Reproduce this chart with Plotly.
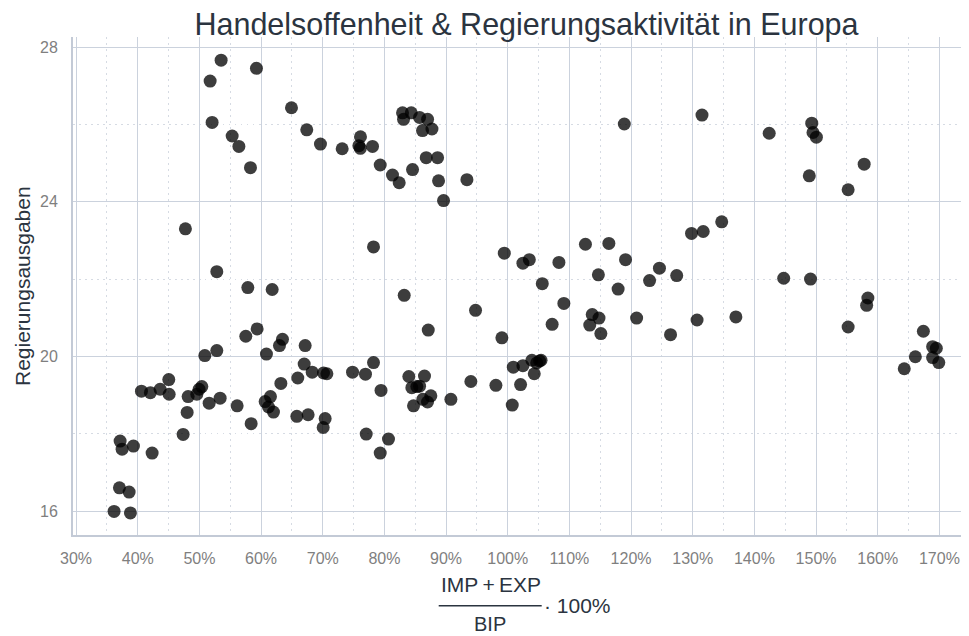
import plotly.graph_objects as go

# Handelsoffenheit (IMP+EXP)/BIP in %, Regierungsausgaben
openness = [
    82.94, 84.35, 83.10, 85.70, 87.00, 86.18, 87.71, 78.07, 79.32, 81.31, 82.40, 84.56,
    86.78, 88.62, 88.78, 93.38, 89.59,
    51.74, 53.52, 59.25, 52.06, 55.31, 56.40, 58.28, 64.93, 67.41, 69.63, 73.15, 76.12,
    75.86, 76.10, 47.73, 78.23, 52.82,
    57.85, 61.80, 57.52, 59.36, 63.47, 62.98, 67.15, 50.88, 52.82, 60.87, 66.99, 68.29,
    70.12, 70.67, 74.83, 76.93, 78.23, 63.21, 65.95, 40.60, 42.05, 43.63, 45.03,
    45.09, 48.17, 49.58, 49.95, 50.39, 51.58, 53.36, 48.01, 47.36, 56.12, 58.39, 60.66,
    61.52, 61.20, 62.01, 65.80, 67.63, 70.39, 70.07, 77.05, 80.66, 79.32, 37.14, 37.46,
    39.30, 42.33, 37.03, 38.60, 36.16, 38.81,
    83.21, 87.11, 94.78, 99.05, 105.6, 109.1, 107.2, 79.45, 83.96, 86.50, 84.45, 85.26,
    85.70, 84.72, 86.23, 87.53, 86.99, 90.78, 94.02, 98.08, 100.73, 100.9, 102.46, 103.92,
    105.16, 104.30, 102.08, 104.7, 105.4,
    99.44, 102.46, 103.5, 108.3, 112.6, 116.4, 119.1, 114.7, 117.9, 124.6, 123.0, 127.4,
    129.8, 131.7, 134.7, 113.7, 114.8, 113.3, 115.1, 120.9, 126.4, 130.7, 137.0,
    131.5, 118.9, 142.4, 149.3, 149.5, 150.05, 148.9, 157.8, 155.2, 144.75, 149.1,
    158.4, 158.2, 155.2, 167.4, 166.1, 164.3, 168.9, 169.5, 168.9, 169.9,
]
spending = [
    26.30, 26.30, 26.13, 26.18, 26.13, 25.84, 25.88, 25.43, 24.95, 24.69, 24.49, 24.83,
    25.14, 25.14, 24.54, 24.57, 24.03,
    27.12, 27.66, 27.45, 26.05, 25.70, 25.43, 24.88, 26.43, 25.86, 25.49, 25.37, 25.68,
    25.45, 25.38, 23.30, 22.83, 22.19,
    21.78, 21.73, 20.52, 20.71, 20.44, 20.28, 20.28, 20.02, 20.15, 20.06, 19.80, 19.59,
    19.57, 19.55, 19.59, 19.54, 19.84, 19.30, 19.44, 19.10, 19.06, 19.15, 19.40,
    19.02, 18.96, 19.02, 19.15, 19.22, 18.79, 18.92, 18.55, 17.98, 18.72, 18.26, 18.83,
    18.96, 18.69, 18.56, 18.45, 18.49, 18.39, 18.16, 17.99, 17.86, 17.50, 17.81, 17.60,
    17.68, 17.50, 16.60, 16.49, 15.99, 15.95,
    21.58, 20.68, 21.19, 20.48, 21.88, 21.37, 20.83, 19.12, 19.48, 19.49, 19.19, 19.22,
    19.23, 18.72, 18.89, 18.98, 18.82, 18.89, 19.35, 19.25, 18.74, 19.72, 19.76, 19.90,
    19.88, 19.55, 19.27, 19.83, 19.90,
    22.67, 22.41, 22.50, 22.43, 22.90, 22.92, 22.50, 22.11, 21.74, 22.28, 21.96, 22.09,
    23.18, 23.23, 23.48, 21.08, 20.99, 20.81, 20.59, 20.99, 20.56, 20.94, 21.02,
    26.24, 26.01, 25.77, 26.03, 25.79, 25.67, 24.67, 24.97, 24.31, 22.02, 22.00,
    21.51, 21.32, 20.76, 20.65, 19.99, 19.68, 20.25, 20.21, 19.97, 19.84,
]

x_ticks = [30, 40, 50, 60, 70, 80, 90, 100, 110, 120, 130, 140, 150, 160, 170]
x_minor = [35, 45, 55, 65, 75, 85, 95, 105, 115, 125, 135, 145, 155, 165]
y_ticks = [16, 20, 24, 28]
y_minor = [18, 22, 26]

title_text = "Handelsoffenheit & Regierungsaktivität in Europa"
y_title = "Regierungsausgaben"

FONT = "Liberation Sans, Arial, sans-serif"
GRID = "#cbd2dd"
MINOR = "#d6dbe3"
AXIS = "#c3cad6"
TICKC = "#7f7f7f"
DARK = "#2b3440"

# the page body has an 8px margin, so the figure is 8px smaller in each direction
W, H = 961, 628

fig = go.Figure(
    go.Scatter(
        x=openness, y=spending, mode="markers",
        marker=dict(size=13, color="black", opacity=0.76, line=dict(width=0)),
        hoverinfo="x+y",
    )
)

fig.update_layout(
    width=W, height=H, autosize=False,
    margin=dict(l=65, r=0, t=29, b=101),
    paper_bgcolor="white", plot_bgcolor="white",
    font=dict(family=FONT),
    showlegend=False,
    title=dict(text=title_text, x=518.5 / W, xanchor="center", y=1 - 16 / H,
               yanchor="middle", font=dict(size=30.5, color=DARK, family=FONT)),
)

fig.update_xaxes(
    range=[29.5, 174.8], tickvals=x_ticks, ticktext=[f"{v}%" for v in x_ticks],
    showgrid=True, gridcolor=GRID, gridwidth=1,
    minor=dict(tickvals=x_minor, showgrid=True, gridcolor=MINOR, griddash="1.5px,4.5px", gridwidth=1),
    showline=True, linecolor=AXIS, linewidth=2,
    ticks="outside", ticklen=8, tickcolor="rgba(0,0,0,0)",
    tickfont=dict(size=16, color=TICKC, family=FONT), zeroline=False,
    automargin=False,
)
fig.update_yaxes(
    range=[15.38, 28.26], tickvals=y_ticks,
    showgrid=True, gridcolor=GRID, gridwidth=1,
    minor=dict(tickvals=y_minor, showgrid=True, gridcolor=MINOR, griddash="1.5px,4.5px", gridwidth=1),
    showline=True, linecolor=AXIS, linewidth=2,
    ticks="outside", ticklen=10, tickcolor="rgba(0,0,0,0)",
    tickfont=dict(size=16, color=TICKC, family=FONT), zeroline=False,
    automargin=False,
)

# helpers: page pixel -> paper fraction (plot area spans page x 73..969, y 37..535)
PW, PH, PL, PB = 896.0, 498.0, 73.0, 535.0
def px(xp):
    return (xp - PL) / PW
def py(yp):
    return (PB - yp) / PH

fig.add_annotation(text=y_title, x=px(22), y=py(286), xref="paper", yref="paper",
                   xanchor="center", yanchor="middle", showarrow=False, textangle=-90,
                   font=dict(size=21, color=DARK, family=FONT))

# x-axis title as a fraction: (IMP + EXP) / BIP · 100%
fig.add_annotation(text="IMP\u2009+\u2009EXP", x=px(490.5), y=py(584), xref="paper", yref="paper",
                   xanchor="center", yanchor="middle", showarrow=False,
                   font=dict(size=21, color=DARK, family=FONT))
fig.add_annotation(text="BIP", x=px(490), y=py(624), xref="paper", yref="paper",
                   xanchor="center", yanchor="middle", showarrow=False,
                   font=dict(size=20, color=DARK, family=FONT))
fig.add_annotation(text="\u00b7 100%", x=px(542), y=py(605), xref="paper", yref="paper",
                   xanchor="left", yanchor="middle", showarrow=False,
                   font=dict(size=21, color=DARK, family=FONT))
fig.add_shape(type="line", xref="paper", yref="paper", x0=px(438.7), x1=px(541.7),
              y0=py(605.7), y1=py(605.7), line=dict(color=DARK, width=1.5))

fig.write_html("out.html")
